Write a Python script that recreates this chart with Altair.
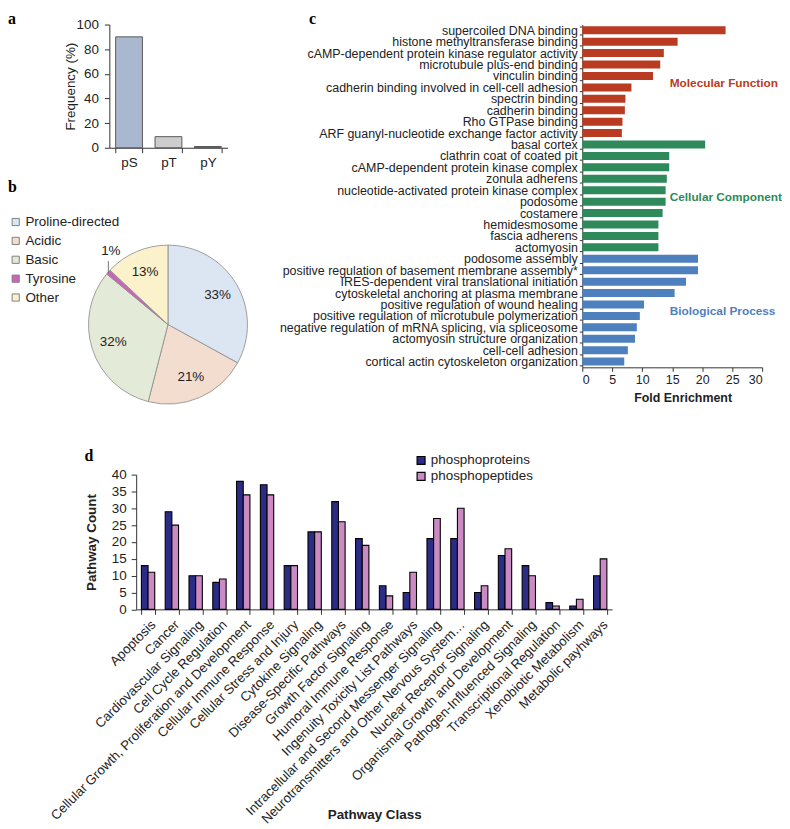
import altair as alt
import pandas as pd

# ---------------- data ----------------
residue_names = ["pS", "pT", "pY"]
residue_freq = [90, 9, 1]

motif_names = ["Proline-directed", "Acidic", "Basic", "Tyrosine", "Other"]
motif_pct = [33, 21, 32, 1, 13]

go_terms = [
    "supercoiled DNA binding",
    "histone methyltransferase binding",
    "cAMP-dependent protein kinase regulator activity",
    "microtubule plus-end binding",
    "vinculin binding",
    "cadherin binding involved in cell-cell adhesion",
    "spectrin binding",
    "cadherin binding",
    "Rho GTPase binding",
    "ARF guanyl-nucleotide exchange factor activity",
    "basal cortex",
    "clathrin coat of coated pit",
    "cAMP-dependent protein kinase complex",
    "zonula adherens",
    "nucleotide-activated protein kinase complex",
    "podosome",
    "costamere",
    "hemidesmosome",
    "fascia adherens",
    "actomyosin",
    "podosome assembly",
    "positive regulation of basement membrane assembly*",
    "IRES-dependent viral translational initiation",
    "cytoskeletal anchoring at plasma membrane",
    "positive regulation of wound healing",
    "positive regulation of microtubule polymerization",
    "negative regulation of mRNA splicing, via spliceosome",
    "actomyosin structure organization",
    "cell-cell adhesion",
    "cortical actin cytoskeleton organization",
]
go_fold = [23.9, 15.9, 13.6, 13.0, 11.8, 8.2, 7.2, 7.1, 6.7, 6.6,
           20.5, 14.5, 14.5, 14.1, 13.9, 13.9, 13.4, 12.7, 12.7, 12.7,
           19.3, 19.3, 17.3, 15.4, 10.3, 9.6, 9.1, 8.8, 7.6, 7.0]
go_group_names = ["Molecular Function", "Cellular Component", "Biological Process"]
go_group = (["Molecular Function"] * 10 + ["Cellular Component"] * 10
            + ["Biological Process"] * 10)

pathways = [
    "Apoptosis", "Cancer", "Cardiovascular Signaling", "Cell Cycle Regulation",
    "Cellular Growth, Proliferation and Development", "Cellular Immune Response",
    "Cellular Stress and Injury", "Cytokine Signaling", "Disease-Specific Pathways",
    "Growth Factor Signaling", "Humoral Immune Response",
    "Ingenuity Toxicity List Pathways", "Intracellular and Second Messenger Signaling",
    "Neurotransmitters and Other Nervous System\u2026", "Nuclear Receptor Signaling",
    "Organismal Growth and Development", "Pathogen-Influenced Signaling",
    "Transcriptional Regulation", "Xenobiotic Metabolism", "Metabolic payhways",
]
phosphoproteins = [13, 29, 10, 8, 38, 37, 13, 23, 32, 21, 7, 5, 21, 21, 5, 16, 13, 2, 1, 10]
phosphopeptides = [11, 25, 10, 9, 34, 34, 13, 23, 26, 19, 4, 11, 27, 30, 7, 18, 10, 1, 3, 15]
series_names = ["phosphoproteins", "phosphopeptides"]

# ---------------- style ----------------
FONT = "Liberation Sans"
SERIF = "Liberation Serif"
TXT = "#222222"
AX = "#333333"
go_colors = ["#b83b22", "#2e8a5a", "#4f80be"]


def panel_label(letter, x, y):
    return alt.Chart(pd.DataFrame({"t": [letter]})).mark_text(
        font=SERIF, fontSize=16, fontWeight="bold", align="left",
        baseline="alphabetic", color="black"
    ).encode(text="t:N", x=alt.value(x), y=alt.value(y))


# ---------------- panel a ----------------
a_df = pd.DataFrame({"res": residue_names, "freq": residue_freq})
a_bars = alt.Chart(a_df).mark_bar(stroke="#5a5a5a", strokeWidth=1).encode(
    x=alt.X("res:N", sort=residue_names, title=None,
            scale=alt.Scale(range=[-27, 92], paddingInner=0.32, paddingOuter=0.16),
            axis=alt.Axis(labelAngle=0, labelFontSize=13.5, labelPadding=3,
                          tickBand="extent", tickSize=5)),
    y=alt.Y("freq:Q", title="Frequency (%)", scale=alt.Scale(domain=[0, 100]),
            axis=alt.Axis(values=[0, 20, 40, 60, 80, 100], offset=27, tickSize=5,
                          labelPadding=6, labelFontSize=13.5, titleFontSize=13.5,
                          titleFontWeight="normal", titleX=-39, titleBaseline="middle")),
    color=alt.Color("res:N", sort=residue_names, legend=None,
                    scale=alt.Scale(domain=residue_names,
                                    range=["#a9b8cf", "#cdcdcd", "#b02a2a"])),
)
panel_a = alt.layer(a_bars, panel_label("a", -129, -0.7)).properties(width=92, height=124)

# ---------------- panel b ----------------
b_df = pd.DataFrame({
    "motif": motif_names,
    "pct": motif_pct,
    "rank": list(range(len(motif_names))),
    "lab_in": [f"{v}%" if v >= 5 else "" for v in motif_pct],
    "lab_out": [f"{v}%" if v < 5 else "" for v in motif_pct],
})
b_base = alt.Chart(b_df).encode(
    theta=alt.Theta("pct:Q", stack=True),
    order=alt.Order("rank:Q"),
)
PIE_X, PIE_Y = 32, 86
b_arcs = b_base.mark_arc(radius=80, stroke="#8a8a8a", strokeWidth=0.8).encode(
    x=alt.value(PIE_X), y=alt.value(PIE_Y),
    color=alt.Color("motif:N", sort=motif_names,
                    scale=alt.Scale(domain=motif_names,
                                    range=["#dce6f2", "#f2ddcf", "#e3ebd8", "#c966b9", "#fbf1cb"]),
                    legend=alt.Legend(title=None, orient="none", legendX=-128, legendY=-24,
                                      symbolType="square", symbolSize=52,
                                      symbolStrokeColor="#808080", symbolStrokeWidth=1,
                                      labelFontSize=13.5, labelColor=TXT, rowPadding=4,
                                      labelOffset=3, padding=0)),
)
b_lab_in = b_base.mark_text(radius=58, fontSize=13.5, color=TXT).encode(
    text="lab_in:N", x=alt.value(PIE_X), y=alt.value(PIE_Y))
b_lab_out = b_base.mark_text(radius=94, fontSize=13.5, color=TXT, dx=13, dy=-12).encode(
    text="lab_out:N", x=alt.value(PIE_X), y=alt.value(PIE_Y))
b_leader = alt.Chart(pd.DataFrame({"k": [0]})).mark_rule(color="#555555", strokeWidth=0.8).encode(
    x=alt.value(-28), y=alt.value(22), y2=alt.value(34))
panel_b = alt.layer(b_arcs, b_lab_in, b_lab_out, b_leader,
                    panel_label("b", -129, -47)).properties(width=58, height=164)

# ---------------- panel c ----------------
c_df = pd.DataFrame({"term": go_terms, "fold": go_fold, "group": go_group})
c_bars = alt.Chart(c_df).mark_bar().encode(
    y=alt.Y("term:N", sort=go_terms, title=None,
            scale=alt.Scale(paddingInner=0.3, paddingOuter=0.15),
            axis=alt.Axis(labelFontSize=12.5, labelLimit=500, labelPadding=2,
                          tickSize=3, tickBand="extent")),
    x=alt.X("fold:Q", title="Fold Enrichment", scale=alt.Scale(domain=[0, 30]),
            axis=alt.Axis(values=[0, 5, 10, 15, 20, 25, 30], tickSize=4, labelPadding=2,
                          labelFontSize=12.5, titleFontSize=12.5, titleFontWeight="bold",
                          titleX=101, titlePadding=6)),
    color=alt.Color("group:N", legend=None,
                    scale=alt.Scale(domain=go_group_names, range=go_colors)),
)
grp_y = [59, 173.5, 288.5]
c_groups = [
    alt.Chart(pd.DataFrame({"t": [name]})).mark_text(
        fontSize=11.9, fontWeight="bold", color=col, align="left", baseline="middle"
    ).encode(text="t:N", x=alt.value(88), y=alt.value(yy))
    for name, col, yy in zip(go_group_names, go_colors, grp_y)
]
panel_c = alt.layer(c_bars, *c_groups, panel_label("c", -275, -0.7)).properties(width=181, height=345)

# ---------------- panel d ----------------
d_df = pd.concat([
    pd.DataFrame({"pathway": pathways, "series": series_names[0], "count": phosphoproteins}),
    pd.DataFrame({"pathway": pathways, "series": series_names[1], "count": phosphopeptides}),
], ignore_index=True)
d_bars = alt.Chart(d_df).mark_bar(stroke="black", strokeWidth=1.1).encode(
    x=alt.X("pathway:N", sort=pathways, title="Pathway Class",
            scale=alt.Scale(paddingInner=0.44, paddingOuter=0.22),
            axis=alt.Axis(labelAngle=-45, labelFontSize=13.3, labelLimit=500, labelPadding=3,
                          tickBand="extent", tickSize=5, titleFontSize=13.5,
                          titleFontWeight="bold", titleY=206, titleBaseline="middle")),
    xOffset=alt.XOffset("series:N", sort=series_names),
    y=alt.Y("count:Q", title="Pathway Count", scale=alt.Scale(domain=[0, 40]),
            axis=alt.Axis(values=[0, 5, 10, 15, 20, 25, 30, 35, 40], tickSize=5,
                          labelPadding=5, labelFontSize=13.5, titleFontSize=13.5,
                          titleFontWeight="bold", titleX=-45, titleBaseline="middle")),
    color=alt.Color("series:N", sort=series_names,
                    scale=alt.Scale(domain=series_names, range=["#2b2c86", "#cc8ac4"]),
                    legend=alt.Legend(title=None, orient="none", legendX=280, legendY=-21,
                                      symbolType="square", symbolSize=64,
                                      symbolStrokeColor="black", symbolStrokeWidth=1.2,
                                      labelFontSize=13.5, labelColor=TXT, rowPadding=1,
                                      labelOffset=3, padding=0)),
)
panel_d = alt.layer(d_bars, panel_label("d", -52, -13.7)).properties(width=479, height=135.6)

# ---------------- layout ----------------
left_col = alt.vconcat(panel_a, panel_b, spacing=10).resolve_scale(
    x="independent", y="independent", color="independent")
top_row = alt.hconcat(left_col, panel_c, spacing=17).resolve_scale(
    x="independent", y="independent", color="independent")
chart = alt.vconcat(top_row, panel_d, spacing=42).resolve_scale(
    x="independent", y="independent", color="independent"
).properties(
    padding={"left": 0, "top": 0, "right": 0, "bottom": 0}
).configure(font=FONT).configure_view(stroke=None).configure_axis(
    labelFont=FONT, titleFont=FONT, domainColor=AX, tickColor=AX,
    labelColor=TXT, titleColor=TXT, grid=False
).configure_legend(labelFont=FONT).configure_text(font=FONT)

chart.save("out.html", embed_options={"renderer": "svg", "actions": False})
